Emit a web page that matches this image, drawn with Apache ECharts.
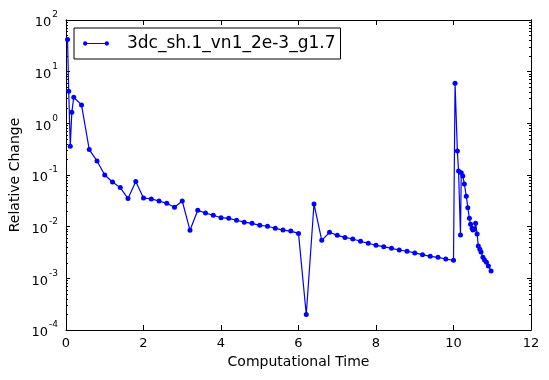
<!DOCTYPE html>
<html>
<head>
<meta charset="utf-8">
<script src="https://cdn.jsdelivr.net/npm/echarts@6/dist/echarts.min.js"></script>
<style>
html,body{margin:0;padding:0;background:#fff;}
#chart{width:549px;height:380px;}
</style>
</head>
<body>
<div id="chart"></div>
<script>
// ---- data ----
const seriesName = '3dc_sh.1_vn1_2e-3_g1.7';
const timeValues = [
  0.04, 0.07, 0.11, 0.15, 0.2, 0.4, 0.6, 0.8, 1.0, 1.2, 1.4, 1.6, 1.8,
  2.0, 2.2, 2.4, 2.6, 2.8, 3.0, 3.2, 3.4, 3.6, 3.8, 4.0, 4.2, 4.4, 4.6, 4.8,
  5.0, 5.2, 5.4, 5.6, 5.8, 6.0, 6.2, 6.4, 6.6, 6.8, 7.0, 7.2, 7.4, 7.6, 7.8,
  8.0, 8.2, 8.4, 8.6, 8.8, 9.0, 9.2, 9.4, 9.6, 9.8, 10.0,
  10.04, 10.1, 10.13, 10.18, 10.2, 10.24, 10.28, 10.33, 10.37, 10.41, 10.44,
  10.48, 10.5, 10.54, 10.57, 10.61, 10.64, 10.68, 10.71, 10.76, 10.8, 10.85, 10.9, 10.97
];
const changeValues = [
  42, 4.2, 0.36, 1.63, 3.2, 2.27, 0.31, 0.187, 0.1, 0.073, 0.057, 0.035, 0.075,
  0.0359, 0.0344, 0.0314, 0.0283, 0.0237, 0.0314, 0.0085, 0.0207, 0.0184, 0.0166, 0.0149, 0.0145, 0.0133, 0.0122, 0.0116,
  0.0106, 0.0102, 0.0093, 0.0086, 0.0082, 0.0074, 0.0002, 0.0275, 0.00544, 0.00778, 0.0068, 0.0062, 0.00578, 0.00521, 0.00477,
  0.00436, 0.0041, 0.00381, 0.00354, 0.00334, 0.0031, 0.00287, 0.00267, 0.00255, 0.00237, 0.00223,
  5.94, 0.29, 0.12, 0.0069, 0.111, 0.096, 0.067, 0.039, 0.0233, 0.0145, 0.0111,
  0.0093, 0.0086, 0.0089, 0.0116, 0.0072, 0.00423, 0.00365, 0.00324, 0.00255, 0.00226, 0.00204, 0.00173, 0.00139
];
const xTicks = [0, 2, 4, 6, 8, 10, 12];
const yTickExponents = [-4, -3, -2, -1, 0, 1, 2];
const minorMultipliers = [2, 3, 4, 5, 6, 7, 8, 9];
const xLabel = 'Computational Time';
const yLabel = 'Relative Change';

// ---- build ----
const lineData = timeValues.map((t, i) => [t, changeValues[i]]);
const majorTickValues = yTickExponents.map(e => Math.pow(10, e));
const minorTickValues = [];
yTickExponents.slice(0, -1).forEach(e => {
  minorMultipliers.forEach(m => minorTickValues.push(m * Math.pow(10, e)));
});

const FONT = 'DejaVu Sans';
const yMin = majorTickValues[0];
const yMax = majorTickValues[majorTickValues.length - 1];

function yLabelFmt(v) {
  const e = Math.round(Math.log10(v));
  return '{b|10}{s|' + (e < 0 ? '-' + (-e) : e) + '}';
}

const chart = echarts.init(document.getElementById('chart'), null, {renderer: 'canvas'});
const icon = 'path://M2.5,2.5 L27.5,2.5 L27.5,3.5 L2.5,3.5 Z M0,3 A2.5,2.5 0 1,1 5,3 A2.5,2.5 0 1,1 0,3 Z M25,3 A2.5,2.5 0 1,1 30,3 A2.5,2.5 0 1,1 25,3 Z';

const axisLineBlack = {show: true, onZero: false, lineStyle: {color: '#000', width: 1}};

function minorAxis(pos) {
  return {
    type: 'log', logBase: 10, min: yMin, max: yMax, position: pos, offset: 0,
    axisLine: axisLineBlack,
    axisTick: {show: true, inside: true, length: 2, customValues: minorTickValues, lineStyle: {color: '#000'}},
    axisLabel: {show: false}, splitLine: {show: false}
  };
}

chart.setOption({
  animation: false,
  backgroundColor: '#fff',
  textStyle: {fontFamily: FONT},
  grid: {left: 66, right: 18, top: 20, bottom: 50, containLabel: false, outerBoundsMode: 'none'},
  legend: {
    data: [{name: seriesName, icon: icon}],
    left: 74, top: 28,
    itemWidth: 26, itemHeight: 5,
    padding: [7, 5, 7, 9],
    borderColor: '#000', borderWidth: 1, borderRadius: 0,
    backgroundColor: '#fff',
    textStyle: {fontFamily: FONT, fontSize: 17, color: '#000', padding: [0, 0, 0, 13]}
  },
  xAxis: [{
    type: 'value', min: xTicks[0], max: xTicks[xTicks.length - 1], interval: 2,
    name: xLabel, nameLocation: 'middle', nameGap: 25,
    nameTextStyle: {fontFamily: FONT, fontSize: 14, color: '#000'},
    axisLine: axisLineBlack,
    axisTick: {show: true, inside: true, length: 5, lineStyle: {color: '#000'}},
    axisLabel: {fontFamily: FONT, fontSize: 13, color: '#000', margin: 7},
    splitLine: {show: false}
  }, {
    type: 'value', position: 'top', min: xTicks[0], max: xTicks[xTicks.length - 1], interval: 2,
    axisLine: axisLineBlack,
    axisTick: {show: true, inside: true, length: 5, lineStyle: {color: '#000'}},
    axisLabel: {show: false}, splitLine: {show: false}
  }],
  yAxis: [{
    type: 'log', logBase: 10, min: yMin, max: yMax, position: 'left', offset: 0,
    name: yLabel, nameLocation: 'middle', nameGap: 44, nameRotate: 90, nameMoveOverlap: false,
    nameTextStyle: {fontFamily: FONT, fontSize: 14, color: '#000'},
    axisLine: axisLineBlack,
    axisTick: {show: true, inside: true, length: 4, customValues: majorTickValues, lineStyle: {color: '#000'}},
    axisLabel: {
      formatter: yLabelFmt, margin: 8, customValues: majorTickValues,
      rich: {
        b: {fontFamily: FONT, fontSize: 13, color: '#000', verticalAlign: 'bottom', padding: [6, 0, 0, 0]},
        s: {fontFamily: FONT, fontSize: 9, color: '#000', verticalAlign: 'top', padding: [0, 0, 6, 1]}
      }
    },
    splitLine: {show: false}
  }, {
    type: 'log', logBase: 10, min: yMin, max: yMax, position: 'right', offset: 0,
    axisLine: axisLineBlack,
    axisTick: {show: true, inside: true, length: 4, customValues: majorTickValues, lineStyle: {color: '#000'}},
    axisLabel: {show: false}, splitLine: {show: false}
  }, minorAxis('left'), minorAxis('right')],
  series: [{
    name: seriesName,
    type: 'line',
    data: lineData,
    xAxisIndex: 0, yAxisIndex: 0,
    color: '#0000ff',
    lineStyle: {color: '#0000ff', width: 1.2},
    itemStyle: {color: '#0000ff'},
    symbol: 'circle', symbolSize: 5,
    showSymbol: true,
    clip: true,
    z: 3
  }]
});
</script>
</body>
</html>
